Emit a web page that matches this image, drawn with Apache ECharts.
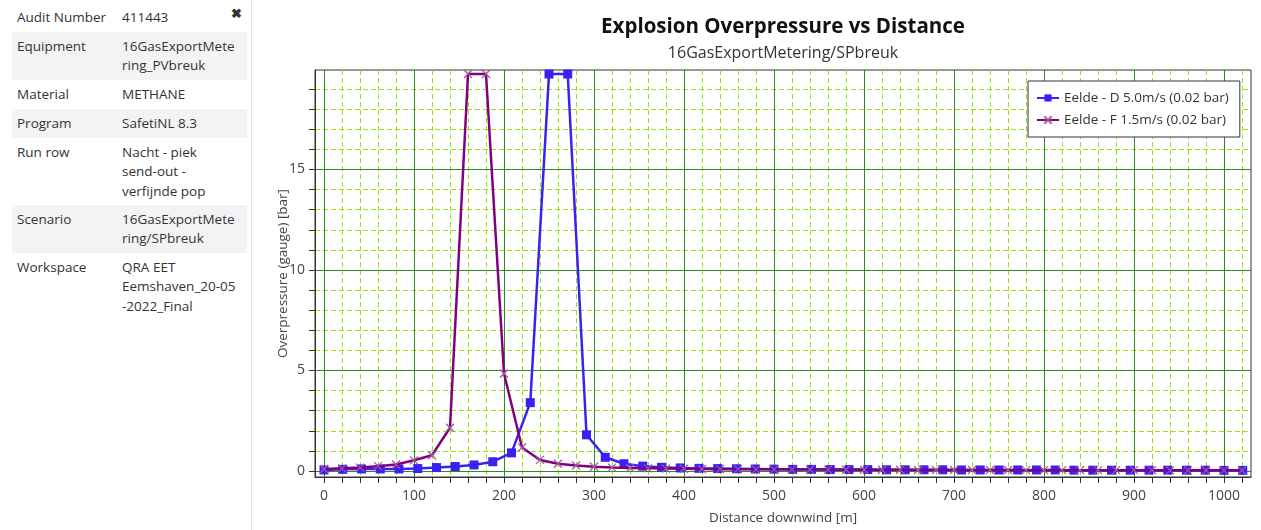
<!DOCTYPE html>
<html>
<head>
<meta charset="utf-8">
<script src="https://cdn.jsdelivr.net/npm/echarts@6/dist/echarts.min.js"></script>
<style>
  html, body { margin: 0; padding: 0; background: #ffffff; }
  body { width: 1261px; height: 530px; position: relative; overflow: hidden; font-family: "Open Sans", "Noto Sans", sans-serif; }
  #chart { position: absolute; left: 0; top: 0; width: 1261px; height: 530px; }
  #panel { position: absolute; left: 0; top: 0; width: 252px; height: 530px; background: #ffffff; border-right: 1px solid #e2e2e2; box-sizing: border-box; }
  .row { position: absolute; left: 12px; width: 235px; font-size: 13.5px; line-height: 19.3px; color: #333; box-sizing: border-box; padding-top: 4px; }
  .row.alt { background: #f3f3f3; }
  .row .k { position: absolute; left: 5px; top: 5px; }
  .row .v { position: absolute; left: 110px; top: 5px; width: 124px; white-space: nowrap; }
  #close { position: absolute; left: 231px; top: 4px; font-size: 13px; font-weight: bold; color: #333; }
</style>
</head>
<body>
<div id="chart"></div>
<div id="panel">
  <div class="row" style="top:3px;height:29px"><span class="k">Audit Number</span><span class="v">411443</span></div>
  <div class="row alt" style="top:32px;height:48px"><span class="k">Equipment</span><span class="v">16GasExportMete<br>ring_PVbreuk</span></div>
  <div class="row" style="top:80px;height:29px"><span class="k">Material</span><span class="v">METHANE</span></div>
  <div class="row alt" style="top:109px;height:29px"><span class="k">Program</span><span class="v">SafetiNL 8.3</span></div>
  <div class="row" style="top:138px;height:67px"><span class="k">Run row</span><span class="v">Nacht - piek<br>send-out -<br>verfijnde pop</span></div>
  <div class="row alt" style="top:205px;height:48px"><span class="k">Scenario</span><span class="v">16GasExportMete<br>ring/SPbreuk</span></div>
  <div class="row" style="top:253px;height:67px"><span class="k">Workspace</span><span class="v">QRA EET<br>Eemshaven_20-05<br>-2022_Final</span></div>
  <div id="close">&#10006;</div>
</div>
<script>
// Distances [m] and overpressures [bar] for both weather cases
const dDist = [0, 20.8, 41.7, 62.5, 83.3, 104.2, 125, 145.8, 166.7, 187.5, 208.3, 229.2, 250, 270.8, 291.7, 312.5,
  333.3, 354.2, 375, 395.8, 416.7, 437.5, 458.3, 479.2, 500, 520.8, 541.7, 562.5, 583.3, 604.2, 625, 645.8,
  666.7, 687.5, 708.3, 729.2, 750, 770.8, 791.7, 812.5, 833.3, 854.2, 875, 895.8, 916.7, 937.5, 958.3, 979.2,
  1000, 1020.8];
const dPressure = [0.05, 0.08, 0.1, 0.1, 0.1, 0.12, 0.17, 0.22, 0.3, 0.46, 0.9, 3.4, 19.75, 19.75, 1.8, 0.68,
  0.36, 0.24, 0.18, 0.15, 0.13, 0.12, 0.11, 0.1, 0.09, 0.08, 0.08, 0.07, 0.07, 0.07, 0.06, 0.06,
  0.06, 0.06, 0.05, 0.05, 0.05, 0.05, 0.05, 0.05, 0.04, 0.04, 0.04, 0.04, 0.04, 0.04, 0.04, 0.04,
  0.03, 0.03];

const fDist = [0, 20, 40, 60, 80, 100, 120, 140, 160, 180, 200, 220, 240, 260, 280, 300, 320, 340, 360, 380,
  400, 420, 440, 460, 480, 500, 520, 540, 560, 580, 600, 620, 640, 660, 680, 700, 720, 740, 760, 780,
  800, 820, 840, 860, 880, 900, 920, 940, 960, 980, 1000, 1020];
const fPressure = [0.1, 0.13, 0.17, 0.24, 0.32, 0.53, 0.78, 2.15, 19.75, 19.75, 4.85, 1.17, 0.55, 0.36, 0.27, 0.21,
  0.17, 0.15, 0.13, 0.12, 0.11, 0.1, 0.09, 0.09, 0.08, 0.08, 0.07, 0.07, 0.07, 0.06, 0.06, 0.06,
  0.06, 0.05, 0.05, 0.05, 0.05, 0.05, 0.05, 0.04, 0.04, 0.04, 0.04, 0.04, 0.04, 0.04, 0.04, 0.03,
  0.03, 0.03, 0.03, 0.03];

const seriesNames = ['Eelde - D 5.0m/s (0.02 bar)', 'Eelde - F 1.5m/s (0.02 bar)'];

// Axis tick and label values
const xLabelValues = [0, 100, 200, 300, 400, 500, 600, 700, 800, 900, 1000];
const xTickValues = [0, 20, 40, 60, 80, 100, 120, 140, 160, 180, 200, 220, 240, 260, 280, 300, 320, 340, 360, 380,
  400, 420, 440, 460, 480, 500, 520, 540, 560, 580, 600, 620, 640, 660, 680, 700, 720, 740, 760, 780,
  800, 820, 840, 860, 880, 900, 920, 940, 960, 980, 1000, 1020];
const yLabelValues = [0, 5, 10, 15];
const yTickValues = [0, 1, 2, 3, 4, 5, 6, 7, 8, 9, 10, 11, 12, 13, 14, 15, 16, 17, 18, 19];

// 1040 m over 936 px keeps every 20 m step at a whole 18 px
const X_MIN = -10, X_MAX = 1030, Y_MIN = -0.3, Y_MAX = 19.95;
const FONT = '"Open Sans", "Noto Sans", sans-serif';
const MINOR = { color: '#94e619', width: 1, type: [5, 3] };
const MAJOR = { color: '#2e8a22', width: 1, type: 'solid' };

const xMinor = xTickValues.filter(v => xLabelValues.indexOf(v) < 0);
const yMinor = yTickValues.filter(v => yLabelValues.indexOf(v) < 0);

// Invisible companion axes on the same range, used only for their split lines
function gridAxis(min, max, values, style, z, pos) {
  return {
    type: 'value', min: min, max: max, z: z, position: pos,
    axisLine: { show: false },
    axisTick: { show: false, customValues: values },
    axisLabel: { show: false, customValues: values },
    splitLine: { show: true, lineStyle: style },
    minorSplitLine: { show: false }
  };
}

const chart = echarts.init(document.getElementById('chart'), null, { renderer: 'canvas' });

chart.setOption({
  animation: false,
  backgroundColor: '#ffffff',
  textStyle: { fontFamily: FONT },
  graphic: [
    { type: 'text', x: 783, y: 27, style: { text: 'Explosion Overpressure vs Distance', fill: '#111', font: 'bold 20.5px ' + FONT, align: 'center', verticalAlign: 'middle' } },
    { type: 'text', x: 783, y: 53, style: { text: '16GasExportMetering/SPbreuk', fill: '#333', font: '16px ' + FONT, align: 'center', verticalAlign: 'middle' } }
  ],
  legend: {
    orient: 'vertical',
    left: 1028,
    top: 81,
    z: 20,
    backgroundColor: '#ffffff',
    borderColor: '#333333',
    borderWidth: 1,
    padding: [10, 11, 10, 8],
    itemGap: 8,
    itemWidth: 22,
    itemHeight: 9,
    textStyle: { fontSize: 13.5, color: '#333', fontFamily: FONT },
    data: seriesNames
  },
  grid: {
    left: 315, right: 10, top: 70, bottom: 52,
    show: true, borderColor: '#333333', borderWidth: 1, backgroundColor: '#ffffff'
  },
  xAxis: [
    {
      type: 'value',
      min: X_MIN, max: X_MAX,
      z: 3,
      position: 'bottom',
      name: 'Distance downwind [m]',
      nameLocation: 'middle',
      nameGap: 34,
      nameMoveOverlap: false,
      nameTextStyle: { fontSize: 13.5, color: '#444', fontFamily: FONT },
      axisLine: { show: true, onZero: false, lineStyle: { color: '#333', width: 1 } },
      axisTick: { show: true, customValues: xTickValues, length: 6, lineStyle: { color: '#333' } },
      axisLabel: { customValues: xLabelValues, margin: 12, fontSize: 14, color: '#444', fontFamily: FONT, formatter: v => String(v) },
      splitLine: { show: false },
      minorSplitLine: { show: false }
    },
    gridAxis(X_MIN, X_MAX, xMinor, MINOR, 0, 'top'),
    gridAxis(X_MIN, X_MAX, xLabelValues, MAJOR, 1, 'top')
  ],
  yAxis: [
    {
      type: 'value',
      min: Y_MIN, max: Y_MAX,
      z: 3,
      position: 'left',
      name: 'Overpressure (gauge) [bar]',
      nameLocation: 'middle',
      nameGap: 25,
      nameMoveOverlap: false,
      nameTextStyle: { fontSize: 13.5, color: '#444', fontFamily: FONT },
      axisLine: { show: true, onZero: false, lineStyle: { color: '#333', width: 1 } },
      axisTick: { show: true, customValues: yTickValues, length: 6, lineStyle: { color: '#333' } },
      axisLabel: { customValues: yLabelValues, margin: 10, fontSize: 14, color: '#444', fontFamily: FONT, formatter: v => String(v) },
      splitLine: { show: false }
    },
    gridAxis(Y_MIN, Y_MAX, yMinor, MINOR, 0, 'right'),
    gridAxis(Y_MIN, Y_MAX, yLabelValues, MAJOR, 1, 'right')
  ],
  series: [
    {
      name: seriesNames[0],
      type: 'line',
      z: 3,
      data: dDist.map((d, i) => [d, dPressure[i]]),
      symbol: 'rect',
      symbolSize: 9,
      itemStyle: { color: '#3b20f2' },
      lineStyle: { color: '#3b20f2', width: 2.5 }
    },
    {
      name: seriesNames[1],
      type: 'line',
      z: 4,
      data: fDist.map((d, i) => [d, fPressure[i]]),
      symbol: 'path://M0,0L10,10M0,10L10,0',
      symbolSize: 8,
      itemStyle: { color: '#800080', borderColor: '#a257a2', borderWidth: 1.2 },
      lineStyle: { color: '#800080', width: 2.5 }
    }
  ]
});
</script>
</body>
</html>
